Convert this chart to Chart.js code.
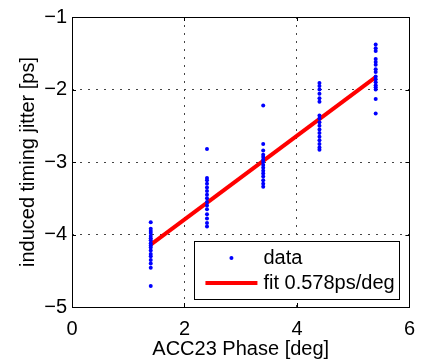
<!DOCTYPE html>
<html>
<head>
<meta charset="utf-8">
<script src="https://cdn.jsdelivr.net/npm/chart.js@4.4.1/dist/chart.umd.min.js"></script>
<style>
  html, body { margin: 0; padding: 0; background: #fff; }
  #wrap { width: 425px; height: 361px; }
</style>
</head>
<body>
<div id="wrap"><canvas id="myChart" width="425" height="361"></canvas></div>
<script>
// phase settings (deg) where the jitter was measured
const phases = [1.4, 2.4, 3.4, 4.4, 5.4];

// measured jitter values (ps) at each phase
const jitter14 = [-3.83, -3.92, -3.95, -3.98, -4.02, -4.05, -4.08, -4.12, -4.15, -4.18, -4.22, -4.27, -4.30, -4.35, -4.40, -4.46, -4.71];
const jitter24 = [-2.82, -3.22, -3.25, -3.30, -3.35, -3.40, -3.45, -3.50, -3.55, -3.60, -3.65, -3.72, -3.78, -3.84, -3.89];
const jitter34 = [-2.22, -2.75, -2.84, -2.90, -2.93, -2.97, -3.00, -3.04, -3.08, -3.12, -3.16, -3.20, -3.25, -3.30, -3.34];
const jitter44 = [-1.91, -1.95, -2.00, -2.06, -2.12, -2.17, -2.36, -2.40, -2.45, -2.50, -2.55, -2.60, -2.65, -2.70, -2.75, -2.80, -2.83];
const jitter54 = [-1.38, -1.43, -1.47, -1.58, -1.62, -1.66, -1.72, -1.76, -1.82, -1.86, -1.90, -1.94, -1.97, -2.00, -2.13, -2.33];

// linear fit end points
const fitX = [1.4, 5.4];
const fitY = [-4.14, -1.83];

const xTicks = [0, 2, 4, 6];
const yTicks = [-1, -2, -3, -4, -5];

const fontFamily = '"Liberation Sans", Arial, sans-serif';

let myChart;

function buildPoints() {
    const groups = [jitter14, jitter24, jitter34, jitter44, jitter54];
    let pts = [];
    for (let i = 0; i < phases.length; i++) {
        for (let j = 0; j < groups[i].length; j++) {
            pts.push({x: phases[i], y: groups[i][j]});
        }
    }
    return pts;
}

// matlab style box, inward ticks and legend
const matlabBox = {
    id: 'matlabBox',
    afterDatasetsDraw(chart) {
        const ctx = chart.ctx;
        const a = chart.chartArea;
        const xs = chart.scales.x;
        const ys = chart.scales.y;
        ctx.save();
        ctx.strokeStyle = '#000';
        ctx.lineWidth = 1;
        ctx.setLineDash([]);
        ctx.beginPath();
        xTicks.forEach(v => {
            const px = Math.round(xs.getPixelForValue(v)) + 0.5;
            ctx.moveTo(px, a.bottom); ctx.lineTo(px, a.bottom - 4);
            ctx.moveTo(px, a.top); ctx.lineTo(px, a.top + 4);
        });
        yTicks.forEach(v => {
            const py = Math.round(ys.getPixelForValue(v)) + 0.5;
            ctx.moveTo(a.left, py); ctx.lineTo(a.left + 4, py);
            ctx.moveTo(a.right, py); ctx.lineTo(a.right - 4, py);
        });
        ctx.stroke();
        ctx.strokeRect(Math.round(a.left) + 0.5, Math.round(a.top) + 0.5,
                       Math.round(a.right - a.left), Math.round(a.bottom - a.top));

        // legend
        const lx = a.right - 215, ly = a.bottom - 66, lw = 205, lh = 58;
        ctx.fillStyle = '#fff';
        ctx.fillRect(lx, ly, lw, lh);
        ctx.strokeRect(Math.round(lx) + 0.5, Math.round(ly) + 0.5, lw, lh);
        ctx.fillStyle = '#0000ff';
        ctx.beginPath();
        ctx.arc(lx + 37, ly + 17, 2, 0, Math.PI * 2);
        ctx.fill();
        ctx.strokeStyle = '#ff0000';
        ctx.lineWidth = 4;
        ctx.beginPath();
        ctx.moveTo(lx + 11, ly + 42);
        ctx.lineTo(lx + 63, ly + 42);
        ctx.stroke();
        ctx.fillStyle = '#000';
        ctx.font = '20px ' + fontFamily;
        ctx.textBaseline = 'middle';
        ctx.fillText('data', lx + 69, ly + 17);
        ctx.fillText('fit 0.578ps/deg', lx + 69, ly + 42);
        ctx.restore();
    }
};

document.addEventListener('DOMContentLoaded', function() {
    const ctx = document.getElementById('myChart').getContext('2d');

    myChart = new Chart(ctx, {
        type: 'scatter',
        data: {
            datasets: [
                {
                    label: 'data',
                    data: buildPoints(),
                    backgroundColor: '#0000ff',
                    borderColor: '#0000ff',
                    pointRadius: 2,
                    pointBorderWidth: 0
                },
                {
                    label: 'fit 0.578ps/deg',
                    type: 'line',
                    data: fitX.map((x, i) => ({x: x, y: fitY[i]})),
                    borderColor: '#ff0000',
                    borderWidth: 4,
                    pointRadius: 0,
                    fill: false
                }
            ]
        },
        options: {
            responsive: false,
            animation: false,
            layout: {padding: {top: 17, right: 11, left: 0, bottom: 0}},
            plugins: {
                legend: {display: false},
                tooltip: {enabled: false}
            },
            scales: {
                x: {
                    type: 'linear',
                    min: 0, max: 6,
                    afterBuildTicks: s => { s.ticks = xTicks.map(v => ({value: v})); },
                    afterFit: s => { s.height = 54; },
                    grid: {
                        color: c => (c.tick && (c.tick.value === 0 || c.tick.value === 6)) ? 'rgba(0,0,0,0)' : '#444',
                        drawTicks: false,
                        lineWidth: 1
                    },
                    border: {display: false, dash: [2, 6]},
                    ticks: {color: '#000', padding: 10, font: {family: fontFamily, size: 20}},
                    title: {display: true, text: 'ACC23 Phase [deg]', color: '#000', padding: 0,
                            font: {family: fontFamily, size: 20}}
                },
                y: {
                    type: 'linear',
                    min: -5, max: -1,
                    afterBuildTicks: s => { s.ticks = yTicks.map(v => ({value: v})); },
                    afterFit: s => { s.width = 72; },
                    grid: {
                        color: c => (c.tick && (c.tick.value === -1 || c.tick.value === -5)) ? 'rgba(0,0,0,0)' : '#444',
                        drawTicks: false,
                        lineWidth: 1
                    },
                    border: {display: false, dash: [2, 6]},
                    ticks: {color: '#000', padding: 5, font: {family: fontFamily, size: 20},
                            callback: v => String(v).replace('-', '\u2212')},
                    title: {display: true, text: 'induced timing jitter [ps]', color: '#000',
                            padding: {top: 16, bottom: 0},
                            font: {family: fontFamily, size: 20}}
                }
            }
        },
        plugins: [matlabBox]
    });
});
</script>
</body>
</html>
